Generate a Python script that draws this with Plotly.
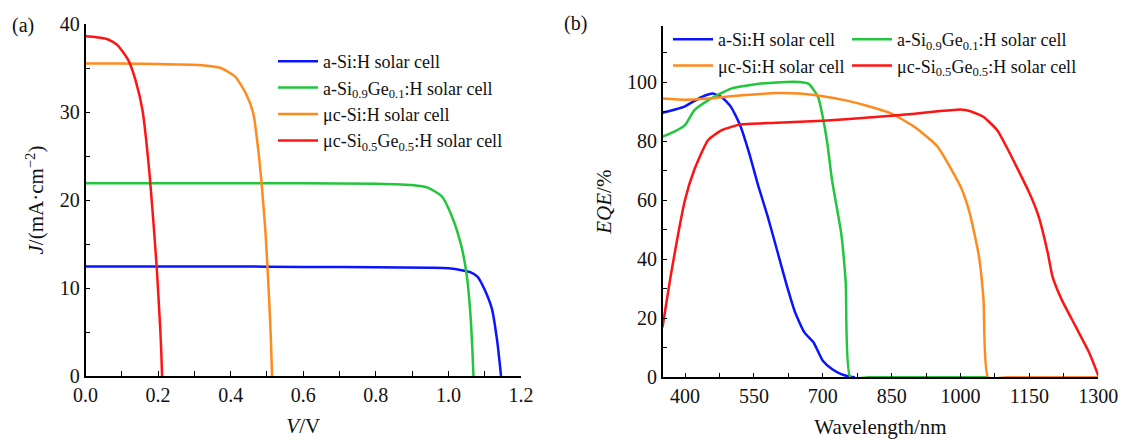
import plotly.graph_objects as go

# ---------------- Panel (a): J-V curves ----------------
names = ["a-Si:H solar cell",
         "a-Si<sub>0.9</sub>Ge<sub>0.1</sub>:H solar cell",
         "μc-Si:H solar cell",
         "μc-Si<sub>0.5</sub>Ge<sub>0.5</sub>:H solar cell"]
colors = ["#0a14ff", "#22c63c", "#ff8a1e", "#ff1414"]

v_asi = [0.0, 0.2, 0.4, 0.6, 0.8, 0.95, 1.0, 1.04, 1.06, 1.08, 1.10, 1.12, 1.135, 1.142, 1.145]
j_asi = [12.45, 12.45, 12.45, 12.4, 12.35, 12.3, 12.25, 12.0, 11.8, 11.3, 9.8, 7.6, 3.8, 1.2, 0.0]

v_asige = [0.0, 0.2, 0.4, 0.6, 0.8, 0.85, 0.9, 0.943, 0.982, 1.01, 1.036, 1.051, 1.061, 1.066, 1.069]
j_asige = [21.9, 21.9, 21.9, 21.9, 21.85, 21.8, 21.7, 21.4, 20.4, 18.1, 14.7, 11.3, 6.8, 3.0, 0.0]

v_ucsi = [0.0, 0.1, 0.2, 0.314, 0.373, 0.413, 0.442, 0.462, 0.476, 0.486, 0.496, 0.506, 0.511, 0.514]
j_ucsi = [35.5, 35.5, 35.45, 35.35, 35.0, 34.0, 32.1, 29.9, 25.7, 21.5, 16.3, 8.7, 4.0, 0.0]

v_ucsige = [0.0, 0.03, 0.059, 0.088, 0.118, 0.138, 0.157, 0.177, 0.196, 0.206, 0.209, 0.211]
j_ucsige = [38.6, 38.5, 38.3, 37.6, 35.9, 33.6, 30.2, 22.7, 12.5, 5.3, 2.5, 0.0]

# ---------------- Panel (b): EQE curves ----------------
wl_asi = [351, 380, 400, 410, 425, 440, 460, 480, 500, 520, 540, 560, 580, 600, 620, 640, 660, 680, 700, 720, 740, 760, 770]
eqe_asi = [89.6, 90.8, 91.8, 92.7, 94.0, 95.2, 96.1, 94.9, 91.6, 85.4, 75.8, 64.6, 54.5, 43.3, 32.0, 21.9, 15.2, 11.8, 5.6, 2.8, 1.1, 0.2, 0.0]

wl_asige = [351, 380, 400, 420, 450, 500, 550, 600, 650, 670, 690, 700, 710, 720, 740, 750, 760, 800, 900, 1000, 1060]
eqe_asige = [81.5, 83.5, 85.4, 90.4, 93.8, 97.8, 99.2, 99.9, 100.0, 99.3, 94.9, 88.2, 79.2, 66.9, 48.9, 32.0, 0.0, 0.0, 0.0, 0.0, 0.0]

wl_ucsi = [351, 400, 450, 500, 550, 600, 650, 700, 750, 800, 850, 900, 950, 1000, 1020, 1040, 1050, 1060, 1100, 1200, 1300]
eqe_ucsi = [94.4, 94.0, 94.4, 95.2, 95.8, 96.3, 96.1, 95.2, 93.8, 91.8, 89.3, 84.8, 78.1, 64.6, 55.6, 41.0, 26.4, 0.0, 0.0, 0.0, 0.0]

wl_ucsige = [351, 370, 400, 420, 450, 480, 520, 600, 700, 800, 900, 950, 1000, 1020, 1050, 1080, 1100, 1150, 1170, 1190, 1200, 1220, 1250, 1280, 1300]
eqe_ucsige = [16.9, 35.4, 60.1, 70.2, 80.3, 83.7, 85.6, 86.2, 86.9, 88.0, 89.3, 90.1, 90.7, 90.2, 88.2, 83.7, 78.1, 62.4, 54.5, 42.1, 34.3, 26.4, 17.4, 8.4, 0.6]

a_x = [v_asi, v_asige, v_ucsi, v_ucsige]
a_y = [j_asi, j_asige, j_ucsi, j_ucsige]
b_x = [wl_asi, wl_asige, wl_ucsi, wl_ucsige]
b_y = [eqe_asi, eqe_asige, eqe_ucsi, eqe_ucsige]
b_legend = ["legend2", "legend3", "legend2", "legend3"]

fig = go.Figure()
for i in range(4):
    fig.add_trace(go.Scatter(x=a_x[i], y=a_y[i], name=names[i], mode="lines",
                             line=dict(color=colors[i], width=2.5, shape="spline", smoothing=0.6),
                             xaxis="x", yaxis="y", legend="legend"))
for i in range(4):
    fig.add_trace(go.Scatter(x=b_x[i], y=b_y[i], name=names[i], mode="lines",
                             line=dict(color=colors[i], width=2.5, shape="spline", smoothing=0.5),
                             xaxis="x2", yaxis="y2", legend=b_legend[i]))

W, H = 1121, 439
FONT = "Liberation Serif, Times New Roman, serif"
tickfont = dict(family=FONT, size=20, color="#111")
titlefont = dict(family=FONT, size=21, color="#111")
minor_common = dict(ticks="inside", ticklen=5, tickwidth=1.3, tickcolor="black")
axis_common = dict(showline=True, linecolor="black", linewidth=1.5, ticks="inside",
                   ticklen=5, tickwidth=1.3, tickcolor="black", showgrid=False,
                   zeroline=False, tickfont=tickfont, mirror=False)
legfont = dict(family=FONT, size=18, color="#111")

fig.update_layout(
    template="none",
    width=W, height=H,
    margin=dict(l=0, r=0, t=0, b=0, autoexpand=False),
    paper_bgcolor="white", plot_bgcolor="white",
    font=dict(family=FONT, size=18, color="#111"),
    xaxis=dict(domain=[85.5 / W, 521 / W], range=[0, 1.2], tick0=0, dtick=0.2, tickformat=".1f",
               minor=dict(tick0=0, dtick=0.1, **minor_common),
               title=dict(text="<i>V</i>/V", font=titlefont, standoff=14),
               anchor="y", automargin=True, **axis_common),
    yaxis=dict(domain=[1 - 376 / H, 1 - 24 / H], range=[0, 40], tick0=0, dtick=10,
               minor=dict(tick0=0, dtick=5, **minor_common),
               title=dict(text="<i>J</i>/(mA·cm<sup>−2</sup>)", font=titlefont, standoff=10),
               anchor="x", automargin=False, **axis_common),
    xaxis2=dict(domain=[662.7 / W, 1098.3 / W], range=[351.4, 1300], tick0=400, dtick=150,
                minor=dict(tick0=400, dtick=75, **minor_common),
                title=dict(text="Wavelength/nm", font=titlefont, standoff=14),
                anchor="y2", automargin=True, **axis_common),
    yaxis2=dict(domain=[1 - 377.3 / H, 1 - 26 / H], range=[0, 119], tick0=0, dtick=20,
                minor=dict(tick0=0, dtick=10, **minor_common),
                title=dict(text="<i>EQE</i>/%", font=titlefont, standoff=10),
                anchor="x2", automargin=False, **axis_common),
    legend=dict(x=273 / W, y=1 - 43 / H, xanchor="left", yanchor="top",
                bgcolor="rgba(0,0,0,0)", font=legfont, itemwidth=40),
    legend2=dict(x=668 / W, y=1 - 21 / H, xanchor="left", yanchor="top",
                 bgcolor="rgba(0,0,0,0)", font=legfont, itemwidth=40),
    legend3=dict(x=847 / W, y=1 - 21 / H, xanchor="left", yanchor="top",
                 bgcolor="rgba(0,0,0,0)", font=legfont, itemwidth=40),
    annotations=[
        dict(text="(a)", x=10 / W, y=1 - 25 / H, xref="paper", yref="paper",
             xanchor="left", yanchor="middle", showarrow=False, font=dict(family=FONT, size=20)),
        dict(text="(b)", x=562 / W, y=1 - 23 / H, xref="paper", yref="paper",
             xanchor="left", yanchor="middle", showarrow=False, font=dict(family=FONT, size=20)),
    ],
)

fig.write_html("out.html",
               config={"displayModeBar": False},
               post_script="document.body.style.margin='0';document.body.style.padding='0';")
